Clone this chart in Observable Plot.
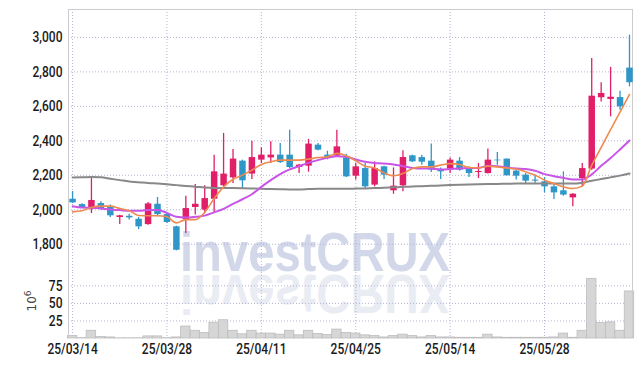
<!DOCTYPE html>
<html><head><meta charset="utf-8">
<script src="https://cdn.jsdelivr.net/npm/d3@7"></script>
<script src="https://cdn.jsdelivr.net/npm/@observablehq/plot@0.6"></script>
<style>
body{margin:0;background:#fff;}
#wrap{position:relative;width:642px;height:366px;overflow:hidden;}
#wrap svg{position:absolute;left:0;}
</style></head><body><div id="wrap"></div>
<script>
// ---- data ----
const dates = ["2025-03-14","2025-03-17","2025-03-18","2025-03-19","2025-03-20","2025-03-21","2025-03-24","2025-03-25","2025-03-26","2025-03-27",
"2025-03-28","2025-03-31","2025-04-01","2025-04-02","2025-04-03","2025-04-04","2025-04-07","2025-04-08","2025-04-09","2025-04-10",
"2025-04-11","2025-04-14","2025-04-15","2025-04-16","2025-04-17","2025-04-18","2025-04-21","2025-04-22","2025-04-23","2025-04-24",
"2025-04-25","2025-04-28","2025-04-29","2025-04-30","2025-05-02","2025-05-07","2025-05-08","2025-05-09","2025-05-12","2025-05-13",
"2025-05-14","2025-05-15","2025-05-16","2025-05-19","2025-05-20","2025-05-21","2025-05-22","2025-05-23","2025-05-26","2025-05-27",
"2025-05-28","2025-05-29","2025-05-30","2025-06-02","2025-06-04","2025-06-05","2025-06-09","2025-06-10","2025-06-11","2025-06-12"];
const open  = [2061,2030,2001,2036,2013,1955,1962,1945,1914,2032,1972,1901,1943,2013,1998,2061,2139,2185,2282,2207,
               2288,2301,2317,2317,2245,2253,2375,2317,2311,2300,2195,2239,2143,2249,2110,2139,2313,2303,2282,2234,
               2236,2282,2236,2216,2210,2288,2294,2224,2201,2172,2162,2133,2110,2069,2181,2236,2650,2640,2651,2822];
const high  = [2106,2035,2181,2046,2027,1968,1974,1955,2042,2071,1978,1905,2079,2147,2139,2317,2443,2350,2288,2398,
               2360,2394,2385,2462,2262,2408,2385,2340,2462,2321,2268,2268,2278,2253,2243,2342,2317,2317,2381,2243,
               2301,2303,2249,2268,2352,2332,2294,2230,2210,2201,2187,2152,2220,2094,2268,2878,2737,2826,2688,3013];
const low   = [2036,2008,1978,1998,1955,1914,1940,1885,1910,1959,1920,1762,1862,1969,1982,1982,2133,2152,2123,2176,
               2268,2268,2268,2239,2210,2218,2342,2290,2303,2187,2172,2118,2133,2176,2090,2104,2274,2259,2216,2176,
               2210,2224,2187,2181,2207,2259,2197,2172,2152,2152,2098,2060,2079,2017,2133,2230,2626,2539,2578,2713];
const close = [2040,2013,2054,2007,1965,1965,1953,1901,2034,1972,1926,1765,2007,2032,2065,2220,2207,2294,2168,2303,
               2317,2317,2274,2245,2259,2381,2346,2301,2365,2191,2249,2133,2239,2201,2137,2303,2278,2276,2230,2220,
               2288,2230,2210,2222,2288,2284,2197,2195,2166,2166,2133,2098,2085,2090,2239,2659,2675,2653,2597,2737];
const ma5   = [1988,1994,2013,2021,2021,2007,1994,1967,1965,1965,1959,1924,1943,1943,1985,2065,2133,2177,2201,2230,
               2263,2278,2288,2288,2288,2294,2303,2307,2327,2313,2284,2253,2243,2214,2197,2210,2239,2249,2249,2259,
               2268,2263,2245,2243,2253,2249,2243,2236,2220,2201,2172,2152,2133,2123,2137,2257,2362,2465,2567,2669];
const ma20  = [2021,2013,2011,2007,2001,1998,1994,1994,1998,1998,1982,1959,1955,1959,1966,1985,2005,2034,2061,2090,
               2133,2172,2207,2234,2253,2272,2288,2301,2311,2307,2292,2278,2272,2268,2263,2253,2243,2239,2239,2234,
               2236,2239,2243,2243,2255,2253,2245,2239,2236,2226,2207,2195,2185,2176,2176,2205,2255,2300,2350,2402];
const ma60  = [2187,2188,2190,2188,2180,2172,2164,2160,2155,2152,2148,2143,2138,2134,2129,2127,2127,2126,2125,2124,
               2122,2120,2119,2118,2118,2120,2122,2122,2122,2122,2123,2124,2126,2128,2130,2133,2135,2137,2139,2141,
               2143,2145,2147,2148,2149,2150,2151,2152,2152,2152,2152,2152,2152,2152,2157,2168,2178,2188,2198,2210];
const volume = [3.5,0.5,11,2,1.5,0.3,0.3,0.3,3,3,0.5,1.5,17,11,8,22.5,26,11,6,11,
                7,7,5.5,11,4.5,11,6.5,5,12.7,8,7,4.5,3.5,1.5,3.5,5.5,3.5,1.5,3.5,1.5,
                1.5,1,1,1,5.5,1.5,1,1,1,1,1,1.5,7,1,11,85,22,23,11,67];
const priceTicks = [1800,2000,2200,2400,2600,2800,3000];
const volumeTicks = [25,50,75];
const dateTickIdx = [0,10,20,30,40,50];

// ---- build ----
const rows = dates.map((d,i)=>({i, date:d, open:open[i], high:high[i], low:low[i], close:close[i],
  ma5:ma5[i], ma20:ma20[i], ma60:ma60[i], vol:volume[i]}));
const xDomain = [-0.43, 59.32];
const up = "#e11f69", down = "#2f96c8";
const col = d => d.close >= d.open ? up : down;
const font = "Roboto,'Liberation Sans',sans-serif";
const grid = {stroke:"#b4b4d4", strokeDasharray:"1,2", strokeWidth:1};
const fmtDate = i => { const s = dates[i]; return s.slice(2,4)+"/"+s.slice(5,7)+"/"+s.slice(8,10); };

const wrap = document.getElementById("wrap");
const bg = d3.select(wrap).append("svg").attr("width",642).attr("height",366).style("top","0px");
bg.append("text").attr("x",180).attr("y",271.3).attr("font-family","'Liberation Sans',Arial,sans-serif")
  .attr("font-weight","bold").attr("font-size",56).attr("fill","#d2d8ea")
  .attr("textLength",270).attr("lengthAdjust","spacingAndGlyphs").text("investCRUX");
bg.append("g").attr("transform","translate(0,546) scale(1,-1)").append("text").attr("x",180).attr("y",271.3)
  .attr("font-family","'Liberation Sans',Arial,sans-serif").attr("font-weight","bold").attr("font-size",56)
  .attr("fill","#eaecf4").attr("textLength",270).attr("lengthAdjust","spacingAndGlyphs").text("investCRUX");
const lab = bg.append("text").attr("transform","translate(35.5,301) rotate(-90)").attr("text-anchor","middle")
  .attr("font-family","'DejaVu Sans',sans-serif").attr("font-size",12).attr("fill","#444");
lab.append("tspan").text("10");
lab.append("tspan").attr("dy",-5).attr("font-size",9).text("6");

const axisStyle = {background:"transparent", fontFamily:font, fontSize:"15px", fontWeight:"500", color:"#1a1a1a"};

const price = Plot.plot({
  width:642, height:272, marginTop:9, marginBottom:0, marginLeft:68, marginRight:10,
  style:axisStyle,
  x:{domain:xDomain, axis:null},
  y:{domain:[1636,3162], ticks:priceTicks, tickFormat:d3.format(","), tickSize:0, tickPadding:6, label:null},
  marks:[
    Plot.ruleX(dateTickIdx, grid),
    Plot.ruleY(priceTicks, grid),
    Plot.frame({stroke:"#cccccc"}),
    Plot.ruleX(rows, {x:"i", y1:"low", y2:"high", stroke:col, strokeWidth:1.3}),
    Plot.ruleX(rows, {x:"i", y1:"open", y2:"close", stroke:col, strokeWidth:6.5}),
    Plot.line(rows, {x:"i", y:"ma60", stroke:"#888888", strokeWidth:2, curve:"monotone-x"}),
    Plot.line(rows, {x:"i", y:"ma20", stroke:"#c855e6", strokeWidth:2, curve:"monotone-x"}),
    Plot.line(rows, {x:"i", y:"ma5", stroke:"#ef8a50", strokeWidth:1.6, curve:"monotone-x"})
  ]
});
price.style.top = "0px";
wrap.appendChild(price);

const vol = Plot.plot({
  width:642, height:94, marginTop:0, marginBottom:28, marginLeft:68, marginRight:10,
  style:axisStyle,
  x:{domain:xDomain, ticks:dateTickIdx, tickFormat:fmtDate, tickSize:0, tickPadding:5, label:null},
  y:{domain:[0,94], ticks:volumeTicks, tickSize:0, tickPadding:6, label:null},
  marks:[
    Plot.ruleX(dateTickIdx, grid),
    Plot.ruleY(volumeTicks, grid),
    Plot.rectY(rows, {x1:d=>d.i-0.5, x2:d=>d.i+0.5, y:"vol", fill:"#d6d6d6", stroke:"#bdbdbd", strokeWidth:0.8}),
    Plot.ruleX(xDomain, {stroke:"#cccccc"})
  ]
});
vol.style.top = "272px";
wrap.appendChild(vol);

// condense the tick labels (reference uses a narrow face)
for (const svg of [price, vol]) {
  svg.querySelectorAll("text").forEach(t => {
    const len = t.getComputedTextLength();
    if (len > 0) { t.setAttribute("textLength", (len*0.8).toFixed(1)); t.setAttribute("lengthAdjust","spacingAndGlyphs"); }
  });
}
</script></body></html>
